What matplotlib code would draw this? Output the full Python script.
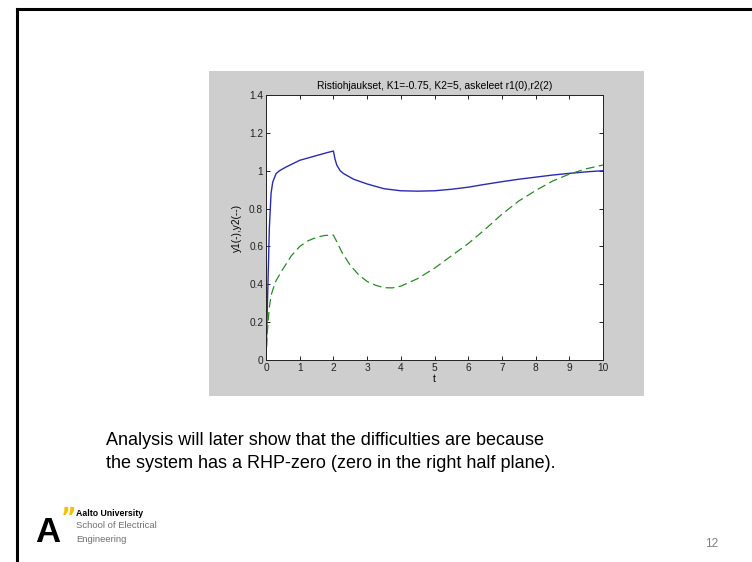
import matplotlib
matplotlib.use("Agg")
import matplotlib.pyplot as plt
from matplotlib.patches import Rectangle
from matplotlib.lines import Line2D

plt.rcParams['font.family'] = ['Liberation Sans', 'DejaVu Sans']

# step response values
t1 = [0, 0.05, 0.1, 0.15, 0.2, 0.3, 0.4, 0.6, 1.0, 1.5, 1.8, 2.0, 2.05, 2.1, 2.2, 2.3,
      2.6, 3.0, 3.5, 4.0, 4.5, 5.0, 5.5, 6.0, 6.5, 7.0, 7.5, 8.0, 8.5, 9.0, 9.5, 10.0]
y1 = [0, 0.35, 0.7, 0.88, 0.94, 0.985, 1.0, 1.02, 1.055, 1.08, 1.095, 1.104, 1.06, 1.03,
      1.0, 0.985, 0.955, 0.93, 0.905, 0.894, 0.892, 0.894, 0.902, 0.913, 0.928, 0.942,
      0.955, 0.966, 0.977, 0.986, 0.994, 1.0]

t2 = [0, 0.03, 0.06, 0.1, 0.15, 0.2, 0.3, 0.5, 0.75, 1.0, 1.25, 1.5, 1.75, 2.0, 2.1,
      2.25, 2.5, 2.75, 3.0, 3.25, 3.5, 3.75, 4.0, 4.5, 5.0, 5.5, 6.0, 6.5, 7.0, 7.5,
      8.0, 8.5, 9.0, 9.5, 10.0]
y2 = [0, 0.12, 0.2, 0.28, 0.34, 0.37, 0.42, 0.48, 0.55, 0.6, 0.63, 0.648, 0.658, 0.66,
      0.625, 0.57, 0.5, 0.45, 0.415, 0.395, 0.382, 0.381, 0.39, 0.43, 0.485, 0.55,
      0.615, 0.69, 0.77, 0.84, 0.895, 0.945, 0.982, 1.01, 1.03]

xticks = list(range(0, 11))
yticks = [0, 0.2, 0.4, 0.6, 0.8, 1.0, 1.2, 1.4]
ytick_labels = ['0', '0.2', '0.4', '0.6', '0.8', '1', '1.2', '1.4']

W, H = 752, 562
fig = plt.figure(figsize=(W / 100, H / 100), dpi=100)
fig.patch.set_facecolor('white')

# slide border (top and left only)
fig.add_artist(Line2D([16.5 / W, 1], [1 - 8.5 / H, 1 - 8.5 / H], color='black', lw=2.2))
fig.add_artist(Line2D([16.5 / W, 16.5 / W], [0, 1 - 8.5 / H], color='black', lw=2.2))

# matlab figure background
fig.add_artist(Rectangle((209 / W, 1 - 396 / H), 435 / W, 325 / H,
                         facecolor='#cecece', edgecolor='none', zorder=0))

ax = fig.add_axes([266 / W, 1 - 360 / H, 337 / W, 265 / H])
ax.set_facecolor('white')
ax.plot(t1, y1, color='#2a2ab4', lw=1.0)
ax.plot(t2, y2, color='#2a8a2a', lw=0.9, dashes=(7, 3.5))
ax.set_xlim(0, 10)
ax.set_ylim(0, 1.4)
ax.set_xticks(xticks)
ax.set_yticks(yticks)
ax.set_yticklabels(ytick_labels)
ax.tick_params(direction='in', length=3, width=0.7, top=True, right=True,
               labelsize=7.3, colors='#222222', pad=2)
for s in ax.spines.values():
    s.set_linewidth(0.7)
    s.set_color('#222222')
ax.set_xlabel('t', fontsize=7.3, labelpad=1)
ax.set_ylabel('y1(-),y2(--)', fontsize=7.3, labelpad=5)
ax.set_title('Ristiohjaukset, K1=-0.75, K2=5, askeleet r1(0),r2(2)', fontsize=7.4, pad=4)

# slide text
fig.text(106 / W, 1 - 445 / H, 'Analysis will later show that the difficulties are because',
         fontsize=13, va='baseline', ha='left', color='black')
fig.text(106 / W, 1 - 468 / H, 'the system has a RHP-zero (zero in the right half plane).',
         fontsize=13, va='baseline', ha='left', color='black')

# logo
fig.text(35 / W, 1 - 542 / H, 'A', fontsize=25, fontweight='bold', color='black',
         ha='left', va='baseline')
fig.text(61 / W, 1 - 525 / H, '\u201d', fontsize=17, fontweight='bold', color='#f5c000',
         family='DejaVu Sans', ha='left', va='baseline')
fig.text(76 / W, 1 - 513 / H, 'Aalto University', fontsize=6.3, fontweight='bold',
         color='black', va='center')
fig.text(76 / W, 1 - 526 / H, 'School of Electrical', fontsize=6.8, color='#707070', va='center')
fig.text(76 / W, 1 - 539 / H, 'Engineering', fontsize=6.8, color='#707070', va='center')

fig.text(712 / W, 1 - 544 / H, '12', fontsize=8.5, color='#808080', ha='center', va='center')

fig.savefig('out.png', dpi=100)
